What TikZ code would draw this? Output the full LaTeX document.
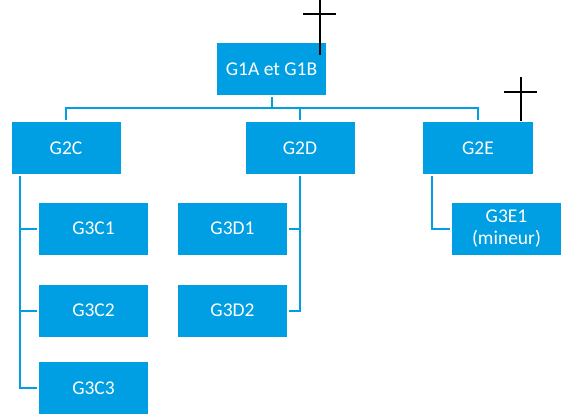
\documentclass[tikz,border=0pt]{standalone}
\usepackage{fontspec}
\setmainfont{Carlito}
\definecolor{boxblue}{RGB}{0,158,227}
\tikzset{
  gbox/.style={fill=boxblue, draw=none, text=white, minimum width=109pt, minimum height=52pt,
    inner sep=0pt, outer sep=2pt, align=center, font=\fontsize{19.5}{22}\selectfont},
  link/.style={draw=boxblue, line width=2pt},
  crossline/.style={draw=black, line width=2pt}
}
\begin{document}
\begin{tikzpicture}[x=1pt,y=-1pt]
\useasboundingbox (0,0) rectangle (573,420);
\node[gbox] (g1) at (271.5,69) {G1A et G1B};
\node[gbox] (g2c) at (66,148) {G2C};
\node[gbox] (g2d) at (300,148) {G2D};
\node[gbox, minimum width=110pt] (g2e) at (478,148) {G2E};
\node[gbox] (g3c1) at (93.5,228.5) {G3C1};
\node[gbox] (g3c2) at (93.5,310.5) {G3C2};
\node[gbox] (g3c3) at (93.5,388) {G3C3};
\node[gbox] (g3d1) at (232.5,228.5) {G3D1};
\node[gbox] (g3d2) at (232.5,310.5) {G3D2};
\node[gbox] (g3e1) at (506.5,228.5) {G3E1\\(mineur)};
\coordinate (bus) at (0,108);
\coordinate (cC) at (20,0);
\coordinate (cE) at (432,0);
% top level bus
\draw[link] (g1.south) -- (g1.south |- bus);
\draw[link] (g2c.north) |- (g2e.north |- bus) -- (g2e.north);
\draw[link] (g2d.north) -- (g2d.north |- bus);
% G2C children
\draw[link] (g2c.south -| cC) |- (g3c3.west);
\draw[link] (g3c1.west) -- (g3c1.west -| cC);
\draw[link] (g3c2.west) -- (g3c2.west -| cC);
% G2D children
\draw[link] (g2d.south) |- (g3d2.east);
\draw[link] (g3d1.east) -- (g3d1.east -| g2d.south);
% G2E child
\draw[link] (g2e.south -| cE) |- (g3e1.west);
% crosses
\coordinate (k1t) at (320,0);
\coordinate (k1b) at (320,55);
\coordinate (k1l) at (303,14);
\coordinate (k1r) at (336,14);
\draw[crossline] (k1t) -- (k1b);
\draw[crossline] (k1l) -- (k1r);
\coordinate (k2t) at (521,77);
\coordinate (k2b) at (521,121);
\coordinate (k2l) at (504,92);
\coordinate (k2r) at (537,92);
\draw[crossline] (k2t) -- (k2b);
\draw[crossline] (k2l) -- (k2r);
\end{tikzpicture}
\end{document}
